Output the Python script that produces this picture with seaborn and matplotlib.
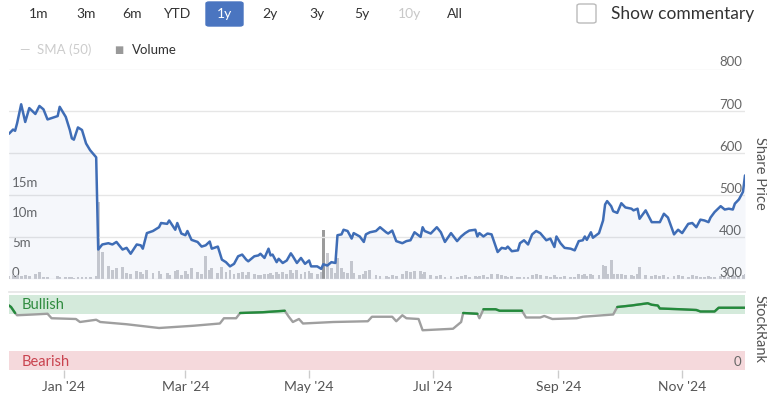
import numpy as np
import pandas as pd
import seaborn as sns
import matplotlib.pyplot as plt
import matplotlib.dates as mdates
from matplotlib.patches import FancyBboxPatch

# ---- data ----
price_dates = [
    "2023-12-05", "2023-12-07", "2023-12-08", "2023-12-09", "2023-12-11", "2023-12-13", "2023-12-15",
    "2023-12-18", "2023-12-20", "2023-12-22", "2023-12-24", "2023-12-29", "2023-12-30",
    "2024-01-02", "2024-01-04", "2024-01-05", "2024-01-06", "2024-01-08", "2024-01-10", "2024-01-12",
    "2024-01-14", "2024-01-17", "2024-01-18", "2024-01-20", "2024-01-23", "2024-01-25", "2024-01-27",
    "2024-01-30",
    "2024-02-01", "2024-02-03", "2024-02-06", "2024-02-08", "2024-02-09", "2024-02-11", "2024-02-14",
    "2024-02-17", "2024-02-18", "2024-02-21", "2024-02-22", "2024-02-25", "2024-02-26", "2024-02-28",
    "2024-03-01", "2024-03-02", "2024-03-04", "2024-03-07", "2024-03-09", "2024-03-11", "2024-03-13",
    "2024-03-14", "2024-03-17", "2024-03-19", "2024-03-21", "2024-03-23", "2024-03-25", "2024-03-27",
    "2024-03-29", "2024-03-31",
    "2024-04-01", "2024-04-04", "2024-04-06", "2024-04-07", "2024-04-09", "2024-04-11", "2024-04-12",
    "2024-04-13", "2024-04-15", "2024-04-16", "2024-04-18", "2024-04-20", "2024-04-22", "2024-04-23",
    "2024-04-25", "2024-04-27", "2024-04-29",
    "2024-05-01", "2024-05-02", "2024-05-05", "2024-05-07", "2024-05-08", "2024-05-10", "2024-05-12",
    "2024-05-14", "2024-05-15", "2024-05-17", "2024-05-18", "2024-05-20", "2024-05-22", "2024-05-23",
    "2024-05-26", "2024-05-28", "2024-05-29", "2024-05-31",
    "2024-06-03", "2024-06-05", "2024-06-08", "2024-06-09", "2024-06-11", "2024-06-13", "2024-06-16",
    "2024-06-18", "2024-06-20", "2024-06-22", "2024-06-25", "2024-06-26", "2024-06-27", "2024-06-30",
    "2024-07-03", "2024-07-05", "2024-07-07", "2024-07-10", "2024-07-13", "2024-07-15", "2024-07-17",
    "2024-07-19", "2024-07-22", "2024-07-23", "2024-07-24", "2024-07-26", "2024-07-28", "2024-07-30",
    "2024-08-02", "2024-08-04", "2024-08-06", "2024-08-07", "2024-08-09", "2024-08-12", "2024-08-13",
    "2024-08-15", "2024-08-17", "2024-08-19", "2024-08-21", "2024-08-23", "2024-08-26", "2024-08-28",
    "2024-08-30", "2024-08-31",
    "2024-09-02", "2024-09-04", "2024-09-07", "2024-09-09", "2024-09-11", "2024-09-13", "2024-09-14",
    "2024-09-15", "2024-09-17", "2024-09-18", "2024-09-21", "2024-09-23", "2024-09-24", "2024-09-25",
    "2024-09-27", "2024-09-28", "2024-09-30",
    "2024-10-02", "2024-10-04", "2024-10-07", "2024-10-08", "2024-10-10", "2024-10-11", "2024-10-14",
    "2024-10-17", "2024-10-19", "2024-10-21", "2024-10-23", "2024-10-25", "2024-10-28", "2024-10-30",
    "2024-11-01", "2024-11-04", "2024-11-06", "2024-11-08", "2024-11-10", "2024-11-12", "2024-11-14",
    "2024-11-15", "2024-11-17", "2024-11-20", "2024-11-22", "2024-11-24", "2024-11-26", "2024-11-27",
    "2024-11-29",
    "2024-12-01", "2024-12-02",
]
share_price = [
    645, 655, 652, 670, 715, 673, 706, 692, 711, 703, 679, 687, 709,
    685, 654, 634, 631, 660, 654, 622, 606, 589, 370, 382, 385, 382, 388, 370,
    374, 360, 382, 380, 372, 409, 414, 423, 433, 431, 439, 417, 433, 408,
    404, 414, 393, 388, 377, 380, 389, 372, 377, 346, 340, 330, 336, 354, 358, 346,
    342, 354, 356, 360, 350, 372, 356, 358, 340, 348, 338, 344, 361, 354, 338, 350, 336,
    344, 330, 330, 324, 335, 332, 340, 338, 404, 406, 417, 414, 396, 409, 401, 388, 406, 411,
    414, 423, 411, 408, 415, 390, 385, 390, 392, 411, 400, 423, 414, 408,
    423, 411, 388, 409, 390, 401, 409, 415, 417, 401, 409, 401, 408, 406,
    364, 374, 372, 377, 366, 368, 385, 392, 382, 406, 414, 409, 392, 396, 376, 401,
    385, 374, 372, 368, 390, 392, 401, 393, 411, 398, 409, 439, 477, 485, 473, 461, 457,
    480, 470, 467, 463, 467, 443, 463, 435, 435, 435, 455, 446, 406, 417,
    409, 431, 433, 423, 441, 439, 435, 446, 459, 473, 465, 467, 465, 479, 489,
    507, 546,
]
# volume in millions
volume_m = [
    0.5, 0.6, 0.4, 0.7, 0.5, 0.6, 0.5, 0.8, 1.1, 0.4, 0.3, 0.5, 0.4,
    0.3, 0.4, 0.3, 0.2, 0.4, 0.3, 0.3, 0.4, 0.5, 12.8, 4.5, 2.2, 1.5, 1.8, 2.0,
    1.0, 0.9, 1.3, 1.2, 0.8, 1.5, 1.0, 1.3, 0.8, 1.0, 0.7, 1.4, 1.5, 0.6,
    1.4, 0.8, 1.9, 1.2, 0.9, 3.9, 1.5, 1.8, 1.0, 2.0, 1.2, 1.5, 0.8, 1.0, 1.2, 0.6,
    1.2, 0.9, 0.7, 0.6, 0.8, 0.9, 1.0, 0.7, 1.1, 0.8, 1.2, 0.9, 1.5, 1.0, 1.5, 0.8, 1.1,
    1.3, 1.0, 0.9, 1.2, 8.2, 4.3, 1.8, 1.0, 3.5, 1.8, 1.2, 1.0, 3.0, 1.0, 0.6, 0.9, 1.3, 1.5,
    0.6, 0.5, 0.5, 0.4, 0.6, 0.5, 0.8, 1.3, 1.2, 1.4, 1.3, 0.9, 1.2, 0.6,
    0.5, 0.6, 0.4, 0.5, 0.4, 0.5, 0.6, 0.4, 0.5, 0.4, 0.5, 0.6, 0.4, 0.8,
    0.9, 0.6, 0.5, 0.4, 0.5, 0.4, 0.3, 0.4, 0.3, 0.6, 0.8, 0.7, 0.5, 0.4, 0.6, 0.3,
    0.4, 0.5, 0.3, 0.4, 0.8, 0.6, 0.9, 0.5, 0.8, 0.6, 0.7, 2.4, 2.1, 0.8, 3.2, 0.8, 0.9,
    0.9, 0.7, 0.6, 0.5, 0.8, 2.0, 0.6, 0.5, 0.7, 0.5, 0.6, 0.4, 0.5, 0.6,
    0.5, 0.4, 0.6, 0.5, 0.3, 0.4, 0.5, 0.4, 0.3, 0.5, 0.4, 0.3, 0.6, 0.5, 0.4,
    0.6, 0.9,
]

rank_dates = [
    "2023-12-05", "2023-12-06", "2023-12-08", "2023-12-09", "2023-12-17", "2023-12-24", "2023-12-26",
    "2024-01-07", "2024-01-09", "2024-01-17", "2024-01-19", "2024-02-01", "2024-02-17", "2024-03-05",
    "2024-03-18", "2024-03-20", "2024-03-26", "2024-03-28", "2024-04-08", "2024-04-19", "2024-04-21",
    "2024-04-23", "2024-04-26", "2024-04-28", "2024-05-13", "2024-05-30", "2024-06-01", "2024-06-11",
    "2024-06-13", "2024-06-16", "2024-06-18", "2024-06-24", "2024-06-26", "2024-07-11", "2024-07-15",
    "2024-07-16", "2024-07-23", "2024-07-24", "2024-07-26", "2024-08-01", "2024-08-03", "2024-08-14",
    "2024-08-16", "2024-08-23", "2024-08-25", "2024-08-29", "2024-09-10", "2024-09-13", "2024-09-28",
    "2024-09-30", "2024-10-07", "2024-10-15", "2024-10-17", "2024-10-20", "2024-10-21", "2024-10-31",
    "2024-11-08", "2024-11-10", "2024-11-17", "2024-11-19", "2024-12-01", "2024-12-02",
]
stock_rank = [
    86, 84, 76, 73, 74, 75, 69,
    68, 64, 67, 64, 61, 56, 59,
    62, 69, 69, 76, 77, 79, 71,
    64, 68, 62, 64, 65, 71, 71,
    65, 73, 69, 68, 53, 55, 64,
    76, 75, 69, 81, 81, 79, 79,
    70, 70, 72, 68, 69, 71, 74,
    84, 86, 89, 87, 86, 82, 81,
    80, 78, 78, 83, 83, 83,
]

price_ticks = [300, 400, 500, 600, 700, 800]
volume_ticks = [0, 5, 10, 15]
volume_labels = ["0", "5m", "10m", "15m"]
range_buttons = ["1m", "3m", "6m", "YTD", "1y", "2y", "3y", "5y", "10y", "All"]

df = pd.DataFrame({"date": pd.to_datetime(price_dates), "price": share_price, "volume": volume_m})
rank_df = pd.DataFrame({"date": pd.to_datetime(rank_dates), "rank": stock_rank})
rank_df["bull"] = rank_df["rank"].where(rank_df["rank"] >= 75)

sns.set_theme(style="white")
plt.rcParams["font.family"] = ["Lato", "DejaVu Sans"]

W, H = 767, 393
fig = plt.figure(figsize=(W / 100, H / 100), dpi=100)

def fx(px):
    return px / W

def fy(py):
    return 1 - py / H

x0, x1 = 9, 745
xlim = (df["date"].iloc[0], df["date"].iloc[-1])

# volume (bottom layer) + price (twin on top)
ax_vol = fig.add_axes([fx(x0), fy(279), fx(x1 - x0), (279 - 68.5) / H])
ax_vol.bar(df["date"], df["volume"], width=1.4,
           color=["#9b9b9b" if d == "2024-05-08" else "#cbcbd0" for d in price_dates], linewidth=0)
ax_vol.set_ylim(0, 35)
ax_vol.set_xlim(xlim)
ax_vol.set_yticks(volume_ticks)
ax_vol.set_yticklabels(volume_labels)
ax_vol.tick_params(axis="y", direction="in", length=0, pad=-2, labelsize=9.5, labelcolor="#666666")
plt.setp(ax_vol.get_yticklabels(), ha="left", va="bottom")
ax_vol.set_xticks([])
for s in ax_vol.spines.values():
    s.set_visible(False)

ax_price = ax_vol.twinx()
ax_price.set_ylim(300, 800)
ax_price.set_yticks(price_ticks)
ax_price.grid(axis="y", color="#e6e6e6", linewidth=1)
ax_price.set_axisbelow(True)
ax_price.fill_between(df["date"], df["price"], 300, color="#3d6cb9", alpha=0.05, linewidth=0)
sns.lineplot(data=df, x="date", y="price", ax=ax_price, color="#3f6db6", linewidth=1.8)
ax_price.set_xlim(xlim)
ax_price.set_xlabel("")
ax_price.set_ylabel("")
ax_price.set_xticks([])
ax_price.tick_params(axis="y", direction="in", length=0, pad=-2, labelsize=9.5, labelcolor="#666666")
plt.setp(ax_price.get_yticklabels(), ha="right", va="bottom")
for s in ax_price.spines.values():
    s.set_visible(False)

# StockRank pane
ax_rank = fig.add_axes([fx(x0), fy(370), fx(x1 - x0), 78 / H])
ax_rank.axhspan(75, 100, color="#d4eadb", linewidth=0)
ax_rank.axhspan(0, 25, color="#f5d9dc", linewidth=0)
sns.lineplot(data=rank_df, x="date", y="rank", ax=ax_rank, color="#9f9f9f", linewidth=1.7)
# plain plot so the bullish stretches break at the gaps
ax_rank.plot(rank_df["date"], rank_df["bull"], color="#238b3b", linewidth=1.7)
ax_rank.set_ylim(0, 104)
ax_rank.set_xlim(xlim)
ax_rank.set_xlabel("")
ax_rank.set_ylabel("")
ytr = ax_rank.get_yaxis_transform()
ax_rank.text(13 / (x1 - x0), 87, "Bullish", transform=ytr,
             color="#2e8b3e", fontsize=10.5, va="center")
ax_rank.text(13 / (x1 - x0), 11, "Bearish", transform=ytr,
             color="#c9434f", fontsize=10.5, va="center")
ax_rank.text(1 - 4 / (x1 - x0), 2, "0", transform=ytr, ha="right", va="bottom",
             fontsize=9.5, color="#666666")
ax_rank.set_yticks([])
ax_rank.xaxis.set_major_locator(mdates.MonthLocator(bymonth=[1, 3, 5, 7, 9, 11]))
ax_rank.xaxis.set_major_formatter(mdates.DateFormatter("%b '%y"))
ax_rank.tick_params(axis="x", direction="out", length=6, width=1, color="#cccccc",
                    labelsize=10, labelcolor="#555555", pad=2, bottom=True)
for k, s in ax_rank.spines.items():
    s.set_visible(k == "top")
ax_rank.spines["top"].set_color("#e6e6e6")

fig.text(fx(760), fy(173), "Share Price", rotation=-90, ha="center", va="center",
         fontsize=10.5, color="#555555")
fig.text(fx(760), fy(329), "StockRank", rotation=-90, ha="center", va="center",
         fontsize=10.5, color="#555555")

# range selector buttons
btn_x = [39, 86, 132, 177, 224, 270, 317, 362, 409, 455]
fig.patches.append(FancyBboxPatch((fx(206), fy(26)), fx(37), 24 / H,
                                  boxstyle="round,pad=0,rounding_size=0.004",
                                  transform=fig.transFigure, color="#4a75c0", zorder=0))
for lab, bx in zip(range_buttons, btn_x):
    col = "white" if lab == "1y" else ("#c8c8c8" if lab == "10y" else "#333333")
    fig.text(fx(bx), fy(14), lab, ha="center", va="center", fontsize=10, color=col)

# checkbox + label
fig.patches.append(FancyBboxPatch((fx(577), fy(23)), fx(19), 19 / H,
                                  boxstyle="round,pad=0,rounding_size=0.004",
                                  transform=fig.transFigure, facecolor="white",
                                  edgecolor="#bbbbbb", linewidth=1))
fig.text(fx(611), fy(14), "Show commentary", ha="left", va="center", fontsize=12.5, color="#333333")

# legend line
fig.text(fx(19), fy(50), "—", ha="left", va="center", fontsize=9.5, color="#cccccc")
fig.text(fx(37), fy(50), "SMA (50)", ha="left", va="center", fontsize=9.5, color="#cccccc")
fig.text(fx(114), fy(51), "■", ha="left", va="center", fontsize=7, color="#999999")
fig.text(fx(132), fy(50), "Volume", ha="left", va="center", fontsize=9.5, color="#333333")

fig.savefig("out.png", dpi=100)
